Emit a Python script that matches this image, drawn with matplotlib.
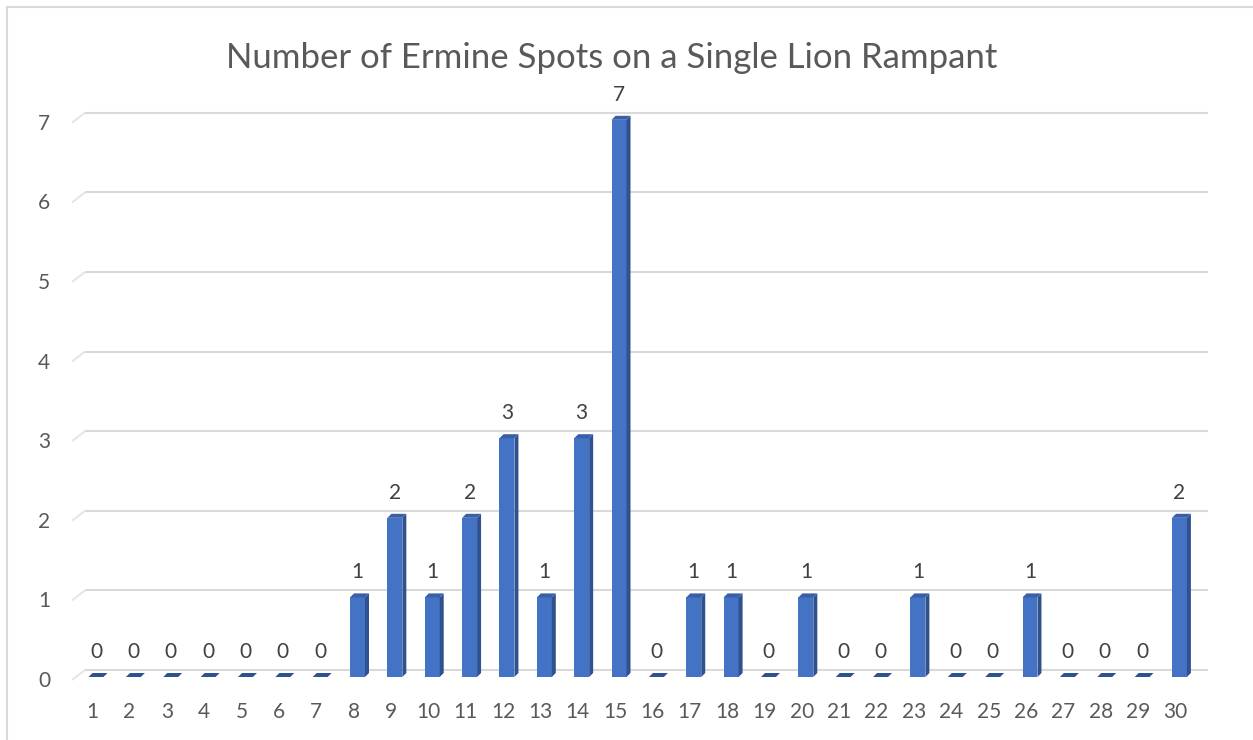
from matplotlib import pyplot as plt
import matplotlib.patches as patches
from matplotlib.lines import Line2D

# ==== data ====
spots = list(range(1, 31))
counts = [0, 0, 0, 0, 0, 0, 0, 1, 2, 1, 2, 3, 1, 3, 7, 0,
          1, 1, 0, 1, 0, 0, 1, 0, 0, 1, 0, 0, 0, 2]
y_ticks = [0, 1, 2, 3, 4, 5, 6, 7]
title = 'Number of Ermine Spots on a Single Lion Rampant'

# ==== style ====
front_c = '#4472C4'
side_c = '#2F528F'
top_c = '#3A5FA8'
grid_c = '#D9D9D9'
txt_c = '#595959'
font = ['Lato', 'DejaVu Sans']
lab_fs = 15

W, H = 1253, 740
fig = plt.figure(figsize=(W / 100, H / 100), dpi=100)
ax = fig.add_axes([0, 0, 1, 1])
ax.axis('off')

# pixel layout: category k at x = 96 + (k-1)*37.36, value v at y = 677 - v*79.6
px_k, x0 = 37.36, 96
px_v, y0 = 79.6, 677
ax.set_xlim(1 - x0 / px_k, 1 + (W - x0) / px_k)
ax.set_ylim((y0 - H) / px_v, y0 / px_v)

w = 0.40            # front face width
dx = 4 / px_k       # depth offset
dy = 4 / px_v
g_off = 7 / px_v    # back wall offset
g_x0 = 1 + (85 - x0) / px_k
g_stub = 1 + (72 - x0) / px_k
g_x1 = 1 + (1208 - x0) / px_k

# back wall gridlines with the little floor stub
for v in y_ticks:
    ax.plot([g_stub, g_x0], [v + g_off - 10 / px_v, v + g_off],
            color='#E6E6E6', lw=1.5, zorder=1, solid_capstyle='butt')
    ax.plot([g_x0, g_x1], [v + g_off, v + g_off],
            color=grid_c, lw=1.5, zorder=1, solid_capstyle='butt')
    ax.text(1 + (44 - x0) / px_k, v - 4 / px_v, str(v), fontsize=lab_fs,
            color=txt_c, ha='center', va='center', family=font)

# 3D-ish bars
ax.bar(spots, counts, width=w, color=front_c, zorder=3)
for k, v in zip(spots, counts):
    xl, xr = k - w / 2, k + w / 2
    if v > 0:
        side = patches.Polygon([(xr, 0), (xr + dx, dy), (xr + dx, v + dy), (xr, v)],
                               closed=True, facecolor=side_c, edgecolor='none', zorder=3)
        ax.add_patch(side)
    top = patches.Polygon([(xl, v), (xr, v), (xr + dx, v + dy), (xl + dx, v + dy)],
                          closed=True, facecolor=top_c if v > 0 else side_c,
                          edgecolor='none', zorder=4)
    ax.add_patch(top)
    ax.text(k, v + 25 / px_v, str(v), fontsize=lab_fs, color='#404040',
            ha='center', va='center', family=font)
    ax.text(k - 4 / px_k, -35 / px_v, str(k), fontsize=lab_fs, color=txt_c,
            ha='center', va='center', family=font)

ax.text(1 + (612 - x0) / px_k, (y0 - 58) / px_v, title, fontsize=25,
        color=txt_c, ha='center', va='center', family=font)

# chart frame
fig.add_artist(Line2D([7 / W, 1], [1 - 7 / H, 1 - 7 / H], color=grid_c, lw=1.5))
fig.add_artist(Line2D([7 / W, 7 / W], [0, 1 - 7 / H], color=grid_c, lw=1.5))

plt.savefig('out.png', dpi=100)
